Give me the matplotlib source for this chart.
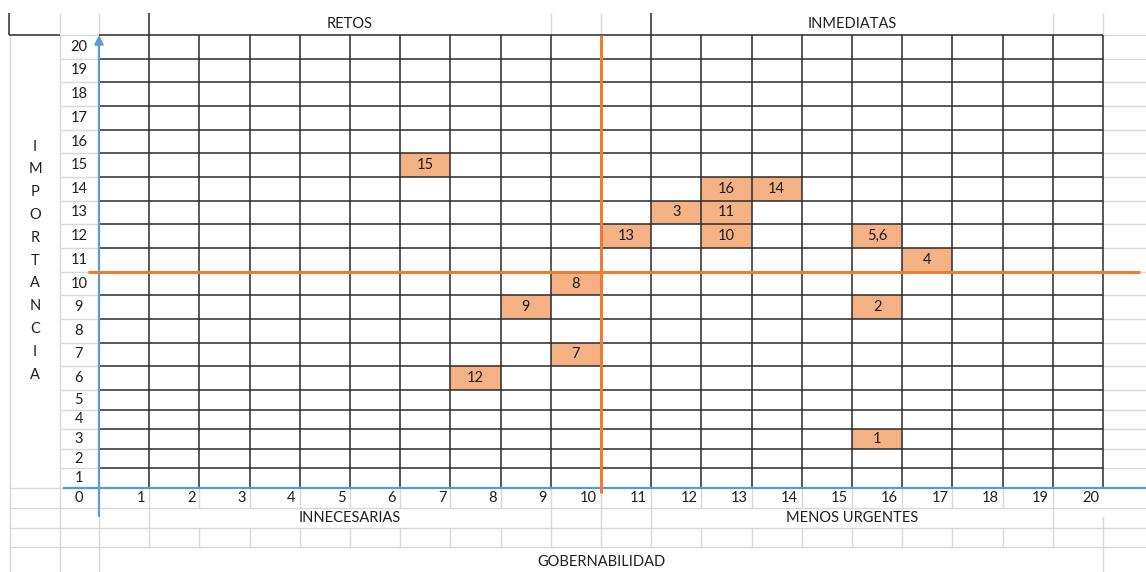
import numpy as np
import matplotlib.pyplot as plt

# Datos: gobernabilidad (x) e importancia (y) de cada problema
labels = ['1', '2', '3', '4', '5,6', '7', '8', '9', '10', '11', '12', '13', '14', '15', '16']
gobernabilidad = [16, 16, 12, 17, 16, 10, 10, 9, 13, 13, 8, 11, 14, 7, 13]
importancia = [3, 9, 13, 11, 12, 7, 10, 9, 12, 13, 6, 12, 14, 15, 14]

x_ticks = list(range(0, 21))
y_ticks = list(range(1, 21))
quadrants_top = ['RETOS', 'INMEDIATAS']
quadrants_bottom = ['INNECESARIAS', 'MENOS URGENTES']
x_title = 'GOBERNABILIDAD'
y_title = 'IMPORTANCIA'

plt.rcParams['font.family'] = ['Lato', 'DejaVu Sans']
FS = 10.5

ORANGE = '#ED7D31'
CELL = '#F4B183'
BLUE = '#5B9BD5'
LIGHT = '#d9d9d9'
DARK = '#2a2a2a'
TXT = '#1e1e1e'

# filas de la hoja: las de abajo son mas bajas que las de arriba
yk = [-4.25, 0, 5, 20, 21.6]
pk = [0, 84, 182, 537, 572]
fwd = lambda y: np.interp(y, yk, pk)
inv = lambda p: np.interp(p, pk, yk)

fig = plt.figure(figsize=(11.46, 5.72), dpi=100)
ax = fig.add_axes([0, 0, 1, 1])
ax.set_yscale('function', functions=(fwd, inv))
ax.set_xlim(-99 / 50.2, 1047 / 50.2)
ax.set_ylim(-4.25, 21.6)
ax.axis('off')

xl, xr = -1.77, 1047 / 50.2
xn = -0.78

# lineas claras de la hoja de calculo
ax.vlines([xl, xn], -4.25, 20, color=LIGHT, lw=1, zorder=1)
ax.vlines([xn, 0, 9, 10, 19, 20], 20, 21, color=LIGHT, lw=1, zorder=1)
ax.vlines([0, 20], -4.25, -1.4, color=LIGHT, lw=1, zorder=1)
ax.vlines(range(1, 20), -1, 0, color=LIGHT, lw=1, zorder=1)
ax.vlines(range(1, 20), -3, -2, color=LIGHT, lw=1, zorder=1)
ax.vlines([1, 9, 10, 11, 19], -2, -1, color=LIGHT, lw=1, zorder=1)
ax.hlines([-1, -2, -3], xl, xr, color=LIGHT, lw=1, zorder=1)
ax.hlines(0, xl, 0, color=LIGHT, lw=1, zorder=1)
ax.hlines(range(1, 21), xn, 0, color=LIGHT, lw=1, zorder=1)
ax.hlines(range(1, 21), 20, xr, color=LIGHT, lw=1, zorder=1)

# bordes oscuros del encabezado
ax.vlines([xl - 0.02, 1, 11], 20, 21, color=DARK, lw=1.1, zorder=2)
ax.hlines(20, xl - 0.02, xn, color=DARK, lw=1.1, zorder=2)

# celdas marcadas
ax.bar(np.array(gobernabilidad) - 0.5, 1, bottom=np.array(importancia) - 1,
       width=1, color=CELL, edgecolor='none', zorder=2)
for lab, gx, iy in zip(labels, gobernabilidad, importancia):
    ax.text(gx - 0.5, iy - 0.5, lab, ha='center', va='center',
            fontsize=FS, color=TXT, zorder=5)

# cuadricula
ax.vlines(range(1, 21), 0, 20, color=DARK, lw=1.1, zorder=3)
ax.hlines(range(1, 21), 0, 20, color=DARK, lw=1.1, zorder=3)

# ejes azules
ax.hlines(0, -0.717, xr, color=BLUE, lw=1.6, zorder=4)
ax.annotate('', xy=(0, 20), xytext=(0, -1.42),
            arrowprops=dict(arrowstyle='-|>', color=BLUE, lw=1.6,
                            mutation_scale=13, shrinkA=0, shrinkB=0), zorder=4)

# lineas naranjas de cuadrantes
ax.vlines(10, -0.25, 20, color=ORANGE, lw=2.2, zorder=4)
ax.hlines(10, -0.22, 20.74, color=ORANGE, lw=2.2, zorder=4)

# etiquetas de ejes
for v in y_ticks:
    ax.text(-0.4, v - 0.5, str(v), ha='center', va='center', fontsize=FS, color=TXT)
for v in x_ticks:
    if v == 0:
        ax.text(-0.4, -0.5, '0', ha='center', va='center', fontsize=FS, color=TXT)
    else:
        ax.text(v - 0.08, -0.5, str(v), ha='right', va='center', fontsize=FS, color=TXT)

ax.text(5, 20.5, quadrants_top[0], ha='center', va='center', fontsize=FS, color=TXT)
ax.text(15, 20.5, quadrants_top[1], ha='center', va='center', fontsize=FS, color=TXT)
ax.text(5, -1.5, quadrants_bottom[0], ha='center', va='center', fontsize=FS, color=TXT)
ax.text(15, -1.5, quadrants_bottom[1], ha='center', va='center', fontsize=FS, color=TXT)
ax.text(10, -3.72, x_title, ha='center', va='center', fontsize=FS, color=TXT)
ax.text(-1.275, 10.47, '\n'.join(y_title), ha='center', va='center',
        fontsize=FS, color=TXT, linespacing=1.8)

fig.savefig('out.png', dpi=100)
